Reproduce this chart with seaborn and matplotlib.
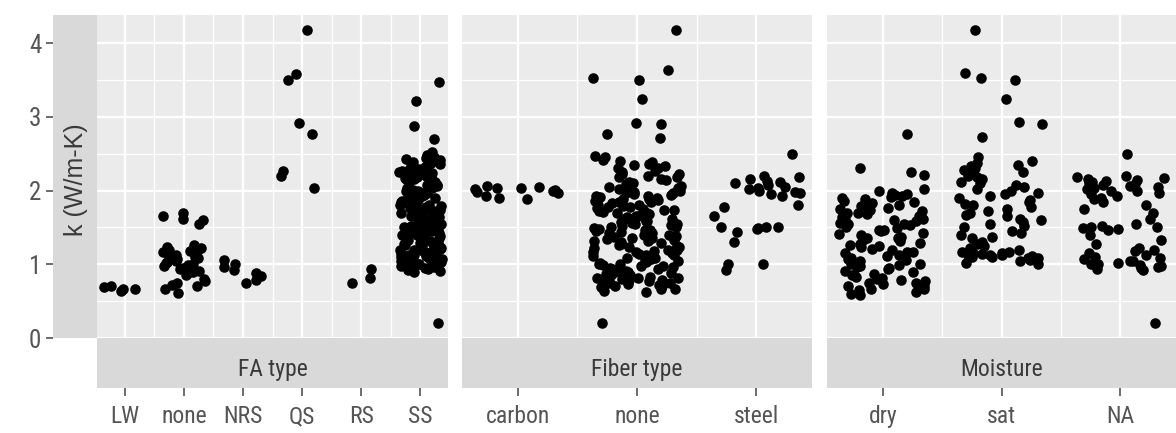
import numpy as np
import pandas as pd
import matplotlib
matplotlib.use("Agg")
import matplotlib.pyplot as plt
from matplotlib import font_manager
from matplotlib.ticker import FixedLocator, MultipleLocator
import seaborn as sns

# ---- thermal conductivity k (W/m-K), grouped three ways ----
fa_categories = ["LW", "none", "NRS", "QS", "RS", "SS"]
fa_lw = [0.70, 0.69, 0.67, 0.66, 0.64]
fa_none = [1.70, 1.66, 1.62, 1.60, 1.55, 1.26, 1.24, 1.22, 1.21, 1.20, 1.18,
           1.17, 1.15, 1.13, 1.12, 1.10, 1.08, 1.07, 1.05, 1.03, 1.02, 1.00,
           0.99, 0.97, 0.95, 0.93, 0.91, 0.90, 0.88, 0.85, 0.80, 0.77, 0.75,
           0.72, 0.70, 0.66, 0.61]
fa_nrs = [1.06, 1.00, 0.96, 0.92, 0.88, 0.84, 0.79, 0.74]
fa_qs = [4.18, 3.58, 3.50, 2.91, 2.76, 2.26, 2.20, 2.04]
fa_rs = [0.74, 0.82, 0.94]
fa_ss = [3.47, 3.22, 2.87, 2.70,
         2.52, 2.48, 2.46, 2.44, 2.41, 2.39, 2.37, 2.36, 2.33, 2.32, 2.30,
         2.29, 2.27, 2.25, 2.24, 2.23, 2.20, 2.19, 2.18, 2.16, 2.15, 2.13,
         2.11, 2.10, 2.08, 2.07, 2.05, 2.04, 2.03, 2.01, 2.00, 1.98, 1.97,
         1.96, 1.94, 1.93, 1.91, 1.90, 1.89, 1.87, 1.86, 1.84, 1.83, 1.82,
         1.80, 1.79, 1.78, 1.76, 1.75, 1.73, 1.72, 1.71, 1.70, 1.68, 1.66,
         1.65, 1.64, 1.62, 1.61, 1.60, 1.58, 1.57, 1.55, 1.54, 1.53, 1.51,
         1.50, 1.49, 1.47, 1.46, 1.44, 1.43, 1.42, 1.40, 1.38, 1.37, 1.36,
         1.34, 1.33, 1.31, 1.30, 1.29, 1.27, 1.26, 1.24, 1.23, 1.22, 1.20,
         1.19, 1.18, 1.16, 1.15, 1.14, 1.12, 1.11, 1.10, 1.08, 1.07, 1.06,
         1.05, 1.03, 1.02, 1.01, 1.00, 0.99, 0.98, 0.97, 0.95, 0.94, 0.93,
         0.91, 0.89, 2.12, 1.85, 1.63, 1.39, 1.21, 1.09, 1.04, 0.96, 2.26,
         1.99, 1.74, 1.52, 1.28,
         2.43, 2.35, 2.28, 2.21, 2.14, 2.06, 1.95, 1.88, 1.81, 1.77, 1.69,
         1.59, 1.56, 1.48, 1.41, 1.35, 1.32, 1.25, 1.17, 1.13, 1.08, 1.02,
         0.98, 0.92, 1.45, 1.67, 1.92, 2.17, 1.11, 1.00,
         0.20]

fiber_categories = ["carbon", "none", "steel"]
fiber_carbon = [2.06, 2.05, 2.04, 2.03, 2.02, 2.01, 2.00, 1.98, 1.96, 1.93,
                1.90, 1.88]
fiber_none = [4.18, 3.63, 3.52, 3.50, 3.24, 2.91, 2.90, 2.76, 2.71,
              2.47, 2.45, 2.42, 2.40, 2.38, 2.35, 2.33, 2.31, 2.30, 2.27,
              2.25, 2.23, 2.22, 2.20, 2.18, 2.16, 2.14, 2.12, 2.10, 2.08,
              2.06, 2.05, 2.03, 2.01, 2.00, 1.98, 1.96, 1.95, 1.93, 1.91,
              1.90, 1.88, 1.86, 1.85, 1.83, 1.81, 1.80, 1.78, 1.76, 1.75,
              1.73, 1.71, 1.70, 1.68, 1.66, 1.65, 1.63, 1.61, 1.60, 1.58,
              1.56, 1.55, 1.53, 1.51, 1.50, 1.48, 1.46, 1.45, 1.43, 1.41,
              1.40, 1.38, 1.36, 1.35, 1.33, 1.31, 1.30, 1.28, 1.26, 1.25,
              1.23, 1.21, 1.20, 1.18, 1.16, 1.15, 1.13, 1.11, 1.10, 1.08,
              1.06, 1.05, 1.03, 1.01, 1.00, 0.98, 0.96, 0.95, 0.93, 0.91,
              0.90, 0.88, 0.86, 0.85, 0.83, 0.81, 0.80, 0.78, 0.76, 0.75,
              0.73, 0.71, 0.70, 0.68, 0.66, 0.64, 0.62,
              2.02, 1.92, 1.84, 1.72, 1.62, 1.52, 1.42, 1.32, 1.22, 1.12,
              1.02, 0.92, 0.82, 0.74, 1.97, 1.77, 1.57, 1.37, 1.17, 0.97,
              0.79, 1.87, 1.47, 1.07, 0.87, 0.72,
              2.36, 2.19, 2.09, 1.99, 1.89, 1.79, 1.69, 1.59, 1.49, 1.39,
              1.29, 1.19, 1.09, 0.99, 0.89, 0.84, 0.77, 0.69, 1.64, 1.44,
              1.24, 1.04, 0.94, 1.14, 1.34, 1.54, 1.74, 1.94, 0.81, 0.67,
              0.20]
fiber_steel = [2.49, 2.20, 2.18, 2.15, 2.13, 2.12, 2.10, 2.08, 2.05, 2.03,
               2.02, 2.00, 1.98, 1.96, 1.95, 1.93, 1.80, 1.78, 1.65, 1.50,
               1.50, 1.50, 1.49, 1.48, 1.44, 1.30, 1.00, 1.00, 0.92]

moisture_categories = ["dry", "sat", "NA"]
moist_dry = [2.77, 2.30, 2.25, 2.21,
             2.02, 1.99, 1.97, 1.95, 1.94, 1.92, 1.90, 1.88, 1.86, 1.84,
             1.83, 1.81, 1.79, 1.77, 1.75, 1.73, 1.72, 1.70, 1.68, 1.66,
             1.64, 1.62, 1.60, 1.58, 1.56, 1.55, 1.53, 1.51, 1.49, 1.47,
             1.45, 1.43, 1.41, 1.39, 1.37, 1.35, 1.33, 1.31, 1.29, 1.27,
             1.25, 1.23, 1.21, 1.19, 1.17, 1.15, 1.13, 1.11, 1.09, 1.07,
             1.05, 1.03, 1.01, 0.99, 0.97, 0.95, 0.93, 0.91, 0.89, 0.87,
             0.85, 0.83, 0.81, 0.79, 0.77, 0.75, 0.73, 0.71, 0.69, 0.67,
             0.65, 0.63, 0.60, 0.58,
             1.91, 1.76, 1.61, 1.46, 1.26, 1.06, 0.96, 0.86, 0.80, 0.74,
             0.70, 1.00, 1.16, 1.36, 1.54, 1.70, 0.66]
moist_sat = [4.18, 3.60, 3.53, 3.50, 3.24, 2.93, 2.90, 2.72,
             2.45, 2.40, 2.37, 2.35, 2.33, 2.30, 2.28, 2.25, 2.22, 2.20,
             2.18, 2.15, 2.12, 2.10, 2.07, 2.05, 2.02, 2.00, 1.97, 1.95,
             1.92, 1.90, 1.87, 1.85, 1.82, 1.80, 1.77, 1.75, 1.72, 1.70,
             1.67, 1.65, 1.62, 1.60, 1.57, 1.55, 1.52, 1.50, 1.45, 1.42,
             1.40, 1.37, 1.35, 1.30, 1.27, 1.25, 1.22, 1.20, 1.17, 1.16,
             1.15, 1.15, 1.14, 1.13, 1.13, 1.12, 1.12, 1.11, 1.10, 1.10,
             1.09, 1.08, 1.06, 1.04, 1.02, 1.00]
moist_na = [2.50, 0.20,
            2.20, 2.18, 2.17, 2.15, 2.14, 2.13, 2.12, 2.10, 2.09, 2.08,
            2.06, 2.05, 2.03, 2.02, 2.00, 1.99, 1.97, 1.95, 1.93, 1.90,
            1.88, 1.85, 1.80, 1.75, 1.70, 1.62, 1.55, 1.52, 1.50, 1.50,
            1.49, 1.48, 1.46, 1.40, 1.33, 1.28, 1.22, 1.20, 1.18, 1.15,
            1.12, 1.10, 1.08, 1.07, 1.05, 1.04, 1.02, 1.01, 1.00, 0.99,
            0.97, 0.96, 0.95, 0.93, 0.92]

y_ticks = [0, 1, 2, 3, 4]
y_label = "k (W/m-K)"

facets = [
    ("FA type", fa_categories, [fa_lw, fa_none, fa_nrs, fa_qs, fa_rs, fa_ss]),
    ("Fiber type", fiber_categories, [fiber_carbon, fiber_none, fiber_steel]),
    ("Moisture", moisture_categories, [moist_dry, moist_sat, moist_na]),
]

# ---- styling ----
sns.set_theme(style="white")
installed = {f.name for f in font_manager.fontManager.ttflist}
narrow = next((f for f in ["Roboto Condensed", "Archivo Narrow", "PT Sans Narrow"]
               if f in installed), "Liberation Sans")
plt.rcParams["font.family"] = [narrow, "DejaVu Sans"]

PANEL_BG = "#EBEBEB"
STRIP_BG = "#D9D9D9"
TICK_TXT = "#555555"
STRIP_TXT = "#3A3A3A"
FS = 17

W, H = 1176, 433
fig = plt.figure(figsize=(W / 100, H / 100), dpi=100)
fig.patch.set_facecolor("white")


def box(x0, y0, x1, y1):
    """Pixel box (top-left origin) -> figure-fraction rect."""
    return [x0 / W, 1 - y1 / H, (x1 - x0) / W, (y1 - y0) / H]


top, bottom, strip_bottom = 15, 338, 388
lefts = [97, 462, 827]
rights = [448, 812, 1176]
ylim = (0.0, 4.38)
expand = 0.47

for i, (title, cats, groups) in enumerate(facets):
    n = len(cats)
    df = pd.DataFrame({
        "group": np.repeat(cats, [len(g) for g in groups]),
        "k": np.concatenate([np.asarray(g, float) for g in groups]),
    })

    ax = fig.add_axes(box(lefts[i], top, rights[i], bottom))
    ax.set_facecolor(PANEL_BG)
    np.random.seed(11 + i)
    sns.stripplot(data=df, x="group", y="k", order=cats, jitter=0.37,
                  color="black", size=7.6, linewidth=0, alpha=1, ax=ax,
                  zorder=3)
    ax.set_xlim(-expand, n - 1 + expand)
    ax.set_ylim(*ylim)
    ax.xaxis.set_major_locator(FixedLocator(list(range(n))))
    ax.xaxis.set_minor_locator(FixedLocator([j + 0.5 for j in range(n - 1)]))
    ax.yaxis.set_major_locator(MultipleLocator(1))
    ax.yaxis.set_minor_locator(MultipleLocator(0.5))
    ax.set_axisbelow(True)
    ax.grid(which="major", color="white", linewidth=1.6)
    ax.grid(which="minor", color="white", linewidth=0.9)
    ax.tick_params(which="both", length=0, labelbottom=False, labelleft=False)
    ax.set_xlabel("")
    ax.set_ylabel("")
    for s in ax.spines.values():
        s.set_visible(False)

    # strip with facet name, x axis underneath it
    sax = fig.add_axes(box(lefts[i], bottom, rights[i], strip_bottom))
    sax.set_facecolor(STRIP_BG)
    sax.set_xlim(-expand, n - 1 + expand)
    sax.set_ylim(0, 1)
    sax.set_yticks([])
    sax.set_xticks(range(n))
    sax.set_xticklabels(cats)
    sax.tick_params(axis="x", length=6, width=1.1, color="#444444", pad=6.5,
                    labelsize=FS, labelcolor=TICK_TXT, direction="out",
                    bottom=True)
    for s in sax.spines.values():
        s.set_visible(False)
    sax.text(0.5, 0.37, title, transform=sax.transAxes, ha="center",
             va="center", fontsize=FS, color=STRIP_TXT)

# y strip carrying the axis label, with the y axis on its left edge
yax = fig.add_axes(box(53, top, 97, bottom))
yax.set_facecolor(STRIP_BG)
yax.set_ylim(*ylim)
yax.set_xticks([])
yax.set_yticks(y_ticks)
yax.set_yticklabels([str(t) for t in y_ticks])
yax.tick_params(axis="y", length=5, width=1.1, color="#444444", pad=3.5,
                labelsize=FS + 1, labelcolor=TICK_TXT, direction="out",
                left=True)
for s in yax.spines.values():
    s.set_visible(False)
yax.text(0.52, 0.49, y_label, transform=yax.transAxes, rotation=90,
         ha="center", va="center", fontsize=18, color=STRIP_TXT,
         family=["Liberation Sans", "DejaVu Sans"])

fig.savefig("out.png", dpi=100)
